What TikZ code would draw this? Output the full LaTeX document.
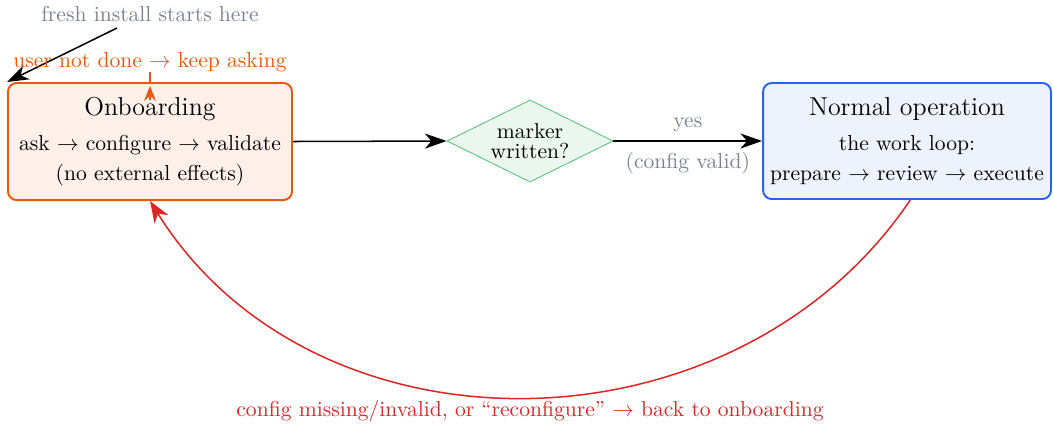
\documentclass[tikz,border=0pt]{standalone}
\usetikzlibrary{arrows.meta,shapes.geometric}
\definecolor{onbline}{HTML}{EA580C}
\definecolor{onbfill}{HTML}{FDF0EB}
\definecolor{nrmline}{HTML}{2563EB}
\definecolor{nrmfill}{HTML}{EEF2FD}
\definecolor{dmline}{HTML}{5CBF7F}
\definecolor{dmfill}{HTML}{EAF6EE}
\definecolor{backred}{HTML}{DC2626}
\definecolor{notegray}{HTML}{7A8294}
\begin{document}
\begin{tikzpicture}[x=0.463pt,y=-0.463pt,
  box/.style={draw, line width=0.9pt, rounded corners=4pt, align=center, inner sep=0pt},
  decision/.style={diamond, aspect=2, draw=dmline, fill=dmfill, line width=0.4pt, align=center, inner sep=0pt, minimum width=76.9pt, minimum height=38pt},
  flow/.style={line width=0.7pt, -{Stealth[length=10pt,width=7pt,inset=3pt]}},
  note/.style={text=notegray},
]
\useasboundingbox (0,0) rectangle (1053,423);

\node[box, draw=onbline, fill=onbfill, minimum width=131.5pt, minimum height=54.2pt] (onb) at (150,141.5)
  {{\large Onboarding}\\[4pt] ask $\rightarrow$ configure $\rightarrow$ validate\\[2pt] (no external effects)};
\node[decision] (dm) at (530,141) {marker\\[-2.7pt]written?};
\node[box, draw=nrmline, fill=nrmfill, minimum width=133.3pt, minimum height=53.7pt] (nrm) at (907,141)
  {{\large Normal operation}\\[4pt] the work loop:\\[2pt] prepare $\rightarrow$ review $\rightarrow$ execute};

\node[text=notegray] (fresh) at (150,14) {fresh install starts here};
\coordinate (freshtail) at (117,28);
\draw[flow] (freshtail) -- (onb.north west);

\node[text=onbline, inner sep=0pt] (keep) at (150,62) {user not done $\rightarrow$ keep asking};
\draw[onbline, line width=0.9pt] (keep.south) -- (onb.north);
\draw[onbline, line width=0.9pt, -{Stealth[length=7pt,width=5.5pt,inset=2.5pt]}] ([yshift=-8.5pt]onb.north) -- ([yshift=-1.8pt]onb.north);

\draw[flow] (onb.east) -- (dm.west);
\draw[flow] (dm.east) -- node[note, above=0.5pt] (yes) {yes} node[note, below=1.5pt] (cv) {(config valid)} (nrm.west);

\draw[backred, line width=0.7pt, -{Stealth[length=10pt,width=7.5pt,inset=3pt]}] ([xshift=1.5pt]nrm.south) .. controls (735,460) and (315,465) .. (onb.south);
\node[text=backred] (backlbl) at (530,411) {config missing/invalid, or ``reconfigure'' $\rightarrow$ back to onboarding};
\end{tikzpicture}
\end{document}
